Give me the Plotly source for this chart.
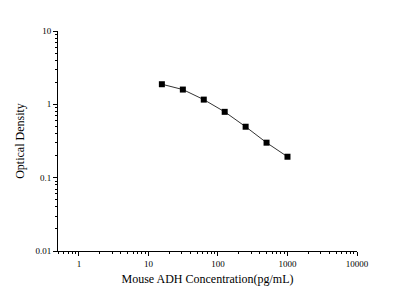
import plotly.graph_objects as go
import math

conc = [15.6, 31.25, 62.5, 125, 250, 500, 1000]
od = [1.88, 1.59, 1.16, 0.79, 0.495, 0.30, 0.193]
x_ticks = [1, 10, 100, 1000, 10000]
x_labels = ["1", "10", "100", "1000", "10000"]
y_ticks = [0.01, 0.1, 1, 10]
y_labels = ["0.01", "0.1", "1", "10"]

x_minor = [m * 10 ** e for e in range(-1, 4) for m in range(2, 10) if m * 10 ** e >= 0.5]
y_minor = [m * 10 ** e for e in range(-2, 1) for m in range(2, 10)]

fig = go.Figure()
fig.add_trace(go.Scatter(
    x=conc, y=od, mode="lines+markers",
    line=dict(color="#333333", width=1),
    marker=dict(symbol="square", size=6, color="black"),
    showlegend=False,
))

font = "Liberation Serif, Times New Roman, serif"
fig.update_layout(
    width=403, height=294,
    margin=dict(l=58, r=46, t=31, b=43),
    paper_bgcolor="white", plot_bgcolor="white",
    font=dict(family=font, size=9, color="black"),
)
fig.update_xaxes(
    type="log", range=[math.log10(0.5), 4],
    tickvals=x_ticks, ticktext=x_labels,
    ticks="outside", ticklen=4, tickwidth=1, tickcolor="black",
    showline=True, linecolor="black", linewidth=1,
    showgrid=False, zeroline=False,
    minor=dict(tickvals=x_minor, ticks="outside", ticklen=2, tickcolor="black", showgrid=False),
    title=dict(text="Mouse ADH Concentration(pg/mL)", font=dict(size=12), standoff=6),
)
fig.update_yaxes(
    type="log", range=[-2, 1],
    tickvals=y_ticks, ticktext=y_labels,
    ticks="outside", ticklen=4, tickwidth=1, tickcolor="black",
    showline=True, linecolor="black", linewidth=1,
    showgrid=False, zeroline=False,
    minor=dict(tickvals=y_minor, ticks="outside", ticklen=2, tickcolor="black", showgrid=False),
    title=dict(text="Optical Density", font=dict(size=12), standoff=8),
)
fig.write_html("out.html")
